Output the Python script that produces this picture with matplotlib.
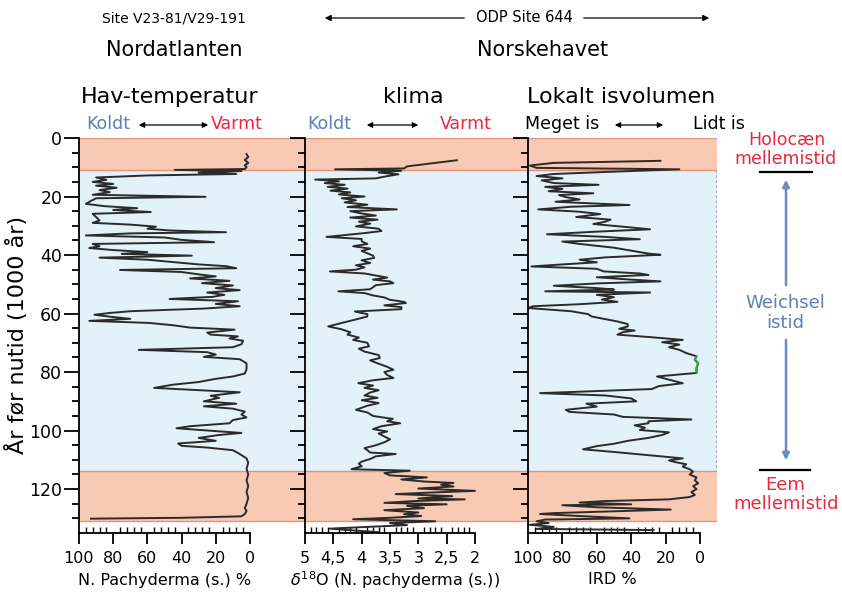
import numpy as np
import matplotlib
matplotlib.use("Agg")
import matplotlib.pyplot as plt
from matplotlib.ticker import FixedLocator
import matplotlib.transforms as mtransforms

plt.rcParams['font.family'] = ['DejaVu Sans']

# ---------------- data ----------------
# Panel 1: N. pachyderma (s.) %  (age in 1000 years, percent)
pach_age = [5.5, 6.5, 7.5, 8.5, 9.3, 10.0, 10.6, 10.9, 11.3, 11.8, 12.3, 12.8, 13.5, 14.3, 15.0, 15.7,
            16.3, 17.0, 17.8, 18.5, 19.4, 20.1, 20.6, 21.5, 22.5, 23.3, 24.0, 24.6, 25.3, 25.9, 27.0,
            28.2, 29.0, 29.6, 30.3, 31.0, 31.6, 32.2, 32.6, 33.3, 34.0, 34.8, 35.6, 36.2, 37.0, 37.6,
            38.3, 39.0, 39.6, 40.2, 40.9, 41.6, 42.4, 43.2, 43.8, 44.5, 45.1, 45.8, 46.6, 47.3, 48.0,
            48.8, 49.6, 50.4, 51.3, 52.0, 52.8, 53.6, 54.3, 55.0, 55.8, 56.7, 57.5, 58.3, 59.2, 59.8,
            60.4, 61.2, 61.8, 62.5, 63.2, 64.0, 64.8, 65.5, 66.5, 67.2, 67.8, 68.5, 69.3, 70.5, 71.5,
            72.4, 73.2, 74.0, 74.8, 75.6, 77.0, 79.0, 80.5, 81.5, 82.4, 83.4, 84.3, 85.4, 86.2, 86.9,
            88.1, 88.8, 90.0, 90.8, 91.7, 92.5, 93.5, 94.5, 95.5, 96.4, 97.5, 98.5, 99.2, 100.2, 100.8,
            101.5, 102.5, 103.5, 104.4, 105.2, 105.8, 106.7, 108.0, 109.5, 111.0, 113.0, 115.0, 117.0,
            119.0, 121.0, 123.0, 125.0, 126.5, 127.5, 128.5, 129.3, 129.8, 130.1]
pach_val = [2, 1, 3, 1, 3, 2, 3, 44, 5, 30, 8, 60, 90, 84, 92, 80,
            90, 78, 88, 82, 92, 26, 90, 93, 96, 85, 66, 80, 58, 92, 90,
            88, 92, 70, 55, 60, 47, 14, 70, 96, 50, 40, 21, 92, 88, 94,
            80, 60, 75, 34, 88, 60, 45, 30, 14, 8, 76, 40, 30, 20, 35,
            12, 28, 10, 20, 6, 25, 15, 22, 47, 7, 20, 6, 27, 70, 82,
            91, 80, 70, 94, 59, 45, 35, 9, 25, 23, 7, 12, 4, 5, 10,
            65, 25, 20, 27, 6, 2, 2, 3, 10, 21, 30, 45, 56, 29, 6,
            23, 18, 27, 8, 27, 10, 3, 5, 2, 10, 12, 35, 43, 19, 5,
            18, 30, 20, 42, 40, 25, 10, 6, 2, 1, 2, 1, 2,
            1, 2, 1, 2, 3, 2, 3, 5, 40, 93]

# Panel 2: delta 18O (per mil)
d18o_age = [7.6, 9.7, 10.4, 10.7, 11.2, 11.8, 12.4, 13.2, 13.8, 14.2, 14.8, 15.4, 16.0, 16.7, 17.3,
            18.0, 18.6, 19.3, 20.0, 20.6, 21.3, 22.0, 22.8, 23.6, 24.4, 25.0, 25.8, 26.5, 27.2, 27.9,
            28.6, 29.3, 30.2, 31.0, 31.8, 32.6, 33.8, 34.5, 35.3, 36.2, 37.0, 37.8, 38.6, 39.4, 40.2,
            41.0, 41.8, 42.7, 43.5, 44.2, 45.0, 45.6, 46.3, 47.0, 47.7, 48.4, 49.0, 49.6, 50.3, 51.0,
            51.7, 52.4, 53.0, 53.8, 54.5, 55.3, 56.0, 56.4, 57.2, 57.8, 58.5, 59.3, 60.2, 61.0, 62.0,
            63.2, 64.4, 65.4, 66.4, 67.2, 68.2, 69.0, 70.0, 71.2, 72.0, 73.0, 74.2, 75.2, 76.0, 77.0,
            78.2, 79.2, 80.0, 81.0, 82.0, 82.8, 83.8, 84.6, 85.4, 86.2, 87.0, 88.0, 88.8, 89.6, 90.6,
            91.5, 92.9, 93.8, 95.0, 96.0, 96.8, 97.5, 98.5, 99.5, 100.3, 101.0, 102.0, 103.0, 104.0,
            105.0, 106.0, 106.7, 107.5, 108.0, 108.8, 109.7, 110.6, 111.3, 112.2, 113.2, 113.7, 114.5,
            115.3, 116.0, 116.7, 117.4, 117.9, 118.5, 119.1, 119.8, 120.6, 121.2, 121.7, 122.4, 123.2,
            123.5, 124.1, 124.7, 125.2, 125.7, 126.5, 127.2, 128.0, 128.6, 129.2, 129.8, 130.3, 131.0,
            131.6, 132.3, 133.0, 133.5, 134.2, 134.7]
d18o_val = [2.32, 3.2, 3.25, 4.47, 3.3, 3.7, 3.35, 3.6, 3.75, 4.82, 4.4, 4.65, 4.3, 4.6, 4.25,
            4.55, 4.2, 4.4, 3.95, 4.35, 4.1, 4.3, 3.9, 4.25, 3.38, 4.2, 4.0, 3.75, 4.2, 3.72,
            4.05, 3.85, 4.1, 3.7, 3.65, 4.0, 4.62, 4.0, 4.0, 3.9, 4.15, 3.85, 4.0, 3.9, 3.8,
            3.78, 4.0, 3.85, 4.1, 3.95, 4.1, 4.56, 3.95, 3.75, 3.55, 3.8, 3.5, 3.44, 3.75, 3.8,
            3.85, 4.41, 3.95, 3.8, 3.6, 3.5, 3.25, 3.22, 3.6, 3.3, 3.3, 4.12, 3.9, 3.9, 4.1,
            4.35, 4.59, 4.35, 4.2, 4.25, 4.05, 4.15, 3.9, 3.87, 4.05, 3.95, 3.7, 3.68, 3.85, 3.72,
            3.55, 3.44, 3.6, 3.55, 3.44, 3.8, 4.06, 3.8, 3.95, 3.7, 3.85, 3.95, 3.72, 4.0, 3.7,
            3.9, 4.1, 3.9, 3.8, 3.45, 3.55, 3.32, 3.65, 3.8, 3.55, 3.7, 3.6, 3.5, 3.6,
            3.75, 3.95, 3.9, 3.85, 3.4, 3.75, 3.85, 4.0, 4.05, 4.0, 4.18, 3.15, 3.6,
            3.5, 2.85, 3.3, 2.9, 2.38, 2.6, 2.38, 3.0, 2.0, 2.8, 3.4, 2.4, 3.0,
            2.18, 3.1, 3.6, 2.5, 3.2, 2.9, 3.6, 3.0, 3.25, 2.95, 3.5, 4.15, 2.7,
            3.5, 3.2, 4.0, 4.56, 4.1, 3.7]

# Panel 3: IRD %
ird_age = [7.8, 8.5, 9.4, 10.2, 10.7, 11.5, 12.3, 13.0, 13.8, 14.5, 15.4, 16.0, 16.7, 17.4, 18.2,
           18.9, 19.5, 20.2, 21.0, 21.8, 22.9, 23.5, 24.4, 25.2, 26.0, 27.0, 27.9, 28.6, 29.4, 30.3,
           31.2, 32.0, 32.9, 33.8, 34.6, 35.4, 36.2, 37.5, 38.5, 39.5, 39.9, 40.8, 41.6, 42.5, 43.2,
           43.9, 44.7, 45.6, 46.3, 46.8, 47.6, 48.4, 49.0, 49.7, 50.5, 51.3, 51.8, 52.4, 52.8, 53.6,
           54.4, 55.2, 56.0, 56.8, 57.5, 58.1, 59.2, 60.2, 61.0, 61.9, 62.7, 63.6, 64.4, 65.2, 65.8,
           66.4, 67.2, 68.0, 69.0, 69.8, 70.6, 71.5, 72.4, 73.5, 74.6, 75.8, 77.0, 78.5, 80.3, 81.5,
           82.6, 83.8, 84.8, 85.8, 87.2, 88.0, 89.0, 90.0, 90.8, 91.8, 92.9, 93.6, 94.5, 95.3, 96.2,
           96.8, 97.5, 98.2, 99.0, 99.8, 100.6, 101.5, 102.5, 103.5, 104.5, 105.3, 106.4, 107.3, 108.4,
           109.5, 110.2, 110.7, 111.5, 112.3, 113.2, 114.0, 115.0, 116.0, 117.0, 118.0, 119.0, 120.0,
           121.0, 122.0, 122.7, 123.5, 124.1, 124.6, 125.2, 125.5, 126.2, 127.0, 127.4, 128.2, 128.5,
           129.2, 130.0, 130.4, 131.0, 131.6, 132.2, 132.9, 133.6, 134.0]
ird_val = [23, 85, 99, 95, 12, 50, 85, 95, 80, 92, 85, 59, 90, 80, 88,
           62, 82, 78, 70, 84, 41, 75, 94, 70, 58, 72, 52, 55, 62, 45,
           29, 60, 89, 55, 35, 80, 70, 50, 40, 30, 23, 55, 70, 60, 80,
           98, 60, 56, 35, 30, 60, 40, 23, 60, 85, 60, 50, 90, 29, 60,
           50, 57, 48, 70, 97, 100, 75, 65, 63, 55, 48, 42, 42, 47, 38,
           45, 48, 30, 10, 22, 12, 18, 12, 8, 2, 3, 1, 2, 2, 25,
           18, 10, 24, 28, 93, 55, 40, 37, 66, 60, 78, 76, 50, 45, 5,
           30, 30, 38, 32, 35, 18, 22, 30, 42, 50, 60, 68, 50, 30,
           10, 18, 15, 8, 10, 6, 4, 6, 2, 3, 1, 4, 2,
           5, 3, 6, 18, 56, 70, 40, 80, 60, 17, 40, 85, 93,
           70, 41, 90, 95, 88, 99, 85, 95, 27]

# climate stages (ages, 1000 years)
holocene = (0, 11)
weichsel = (11, 113.7)
eem = (113.7, 131)

age_ticks = [0, 20, 40, 60, 80, 100, 120]
pct_ticks = [100, 80, 60, 40, 20, 0]
pct_labels = ['100', '80', '60', '40', '20', '0']
d18o_ticks = [5, 4.5, 4, 3.5, 3, 2.5, 2]
d18o_labels = ['5', '4,5', '4', '3,5', '3', '2,5', '2']

# ---------------- figure ----------------
W, H = 842, 594
fig = plt.figure(figsize=(W / 100, H / 100), dpi=100)

def fx(px):
    return px / W

def fy(py):
    return 1 - py / H

def rect(x0, x1, y0=138, y1=533.3):
    return [fx(x0), fy(y1), (x1 - x0) / W, (y1 - y0) / H]

PINK = '#f8cab4'
BLUE = '#e3f2f9'
EDGE = '#e8917a'
LINE = '#2b2b2b'
RED = '#e8283c'
SLATE = '#5b80b8'

ax1 = fig.add_axes(rect(79, 305))
ax2 = fig.add_axes(rect(305, 528))
ax3 = fig.add_axes(rect(528, 717))

setups = [
    (ax1, (100, -32.2), pct_ticks, pct_labels, np.arange(0, 101, 4), (100, 0)),
    (ax2, (5, 1.065), d18o_ticks, d18o_labels, np.arange(2, 5.001, 0.1), (5, 2)),
    (ax3, (100, -9.9), pct_ticks, pct_labels, np.arange(0, 101, 4), (100, 0)),
]
for ax, xl, xt, xtl, xminor, bnds in setups:
    ax.set_facecolor('none')
    ax.set_xlim(*xl)
    ax.set_ylim(135.1, 0)
    ax.axhspan(*holocene, color=PINK, lw=0, zorder=0)
    ax.axhspan(*weichsel, color=BLUE, lw=0, zorder=0)
    ax.axhspan(*eem, color=PINK, lw=0, zorder=0)
    for yb in (holocene[0], holocene[1], eem[0], eem[1]):
        ax.axhline(yb, color=EDGE, lw=1.0, zorder=1)
    for s in ('top', 'right'):
        ax.spines[s].set_visible(False)
    ax.spines['left'].set_linewidth(1.3)
    ax.spines['bottom'].set_linewidth(1.3)
    ax.spines['bottom'].set_bounds(*bnds)
    ax.xaxis.set_major_locator(FixedLocator(xt))
    ax.set_xticklabels(xtl, fontsize=11.5)
    ax.xaxis.set_minor_locator(FixedLocator(xminor))
    ax.tick_params(axis='x', which='major', direction='out', length=8, width=1.3, pad=5)
    ax.tick_params(axis='x', which='minor', direction='in', length=4, width=1.0)
    ax.yaxis.set_major_locator(FixedLocator(age_ticks))
    ax.yaxis.set_minor_locator(FixedLocator(np.arange(0, 131, 5)))
    ax.tick_params(axis='y', which='major', direction='out', length=11, width=1.3, pad=1,
                   labelsize=12.5)
    ax.tick_params(axis='y', which='minor', direction='out', length=5, width=1.3)
    for side in ('left', 'bottom'):
        ax.spines[side].set_zorder(5)

ax2.set_yticklabels([])
ax3.set_yticklabels([])

ax1.plot(pach_val, pach_age, color=LINE, lw=1.4, zorder=3)
ax2.plot(d18o_val, d18o_age, color=LINE, lw=1.4, zorder=3)
ax3.plot(ird_val, ird_age, color=LINE, lw=1.4, zorder=3)
# short green segment in the IRD curve
ia = np.array(ird_age)
iv = np.array(ird_val)
m = (ia >= 74.6) & (ia <= 80.3)
ax3.plot(iv[m], ia[m], color='#3aa046', lw=1.4, zorder=4)

# dashed right edge of the Weichsel band in panel 3
trans = mtransforms.blended_transform_factory(ax3.transAxes, ax3.transData)
ax3.vlines(0.995, weichsel[0], weichsel[1], transform=trans, colors='#9fb6c8',
           linestyles=(0, (2, 2)), lw=0.9, zorder=1)

# axis titles
fig.text(fx(165), fy(580), 'N. Pachyderma (s.) %', fontsize=11.5, ha='center', va='center')
fig.text(fx(395), fy(580), r'$\delta^{18}$O (N. pachyderma (s.))', fontsize=11.5,
         ha='center', va='center')
fig.text(fx(612), fy(580), 'IRD %', fontsize=11.5, ha='center', va='center')

fig.text(fx(17), fy(335), 'År før nutid (1000 år)', rotation=90, fontsize=16,
         ha='center', va='center')

# ---------------- header texts ----------------
fig.text(fx(174), fy(18), 'Site V23-81/V29-191', fontsize=10, ha='center', va='center')
fig.text(fx(524), fy(18), 'ODP Site 644', fontsize=10.5, ha='center', va='center')
arrow_kw = dict(arrowstyle='-|>', color='black', lw=0.9, mutation_scale=9)
fig.add_artist(matplotlib.patches.FancyArrowPatch((fx(467), fy(18)), (fx(322), fy(18)),
               transform=fig.transFigure, **arrow_kw))
fig.add_artist(matplotlib.patches.FancyArrowPatch((fx(581), fy(18)), (fx(712), fy(18)),
               transform=fig.transFigure, **arrow_kw))

fig.text(fx(174), fy(50), 'Nordatlanten', fontsize=15, ha='center', va='center')
fig.text(fx(543), fy(50), 'Norskehavet', fontsize=15, ha='center', va='center')

fig.text(fx(170), fy(97), 'Hav-temperatur', fontsize=16, ha='center', va='center')
fig.text(fx(413), fy(97), 'klima', fontsize=16, ha='center', va='center')
fig.text(fx(621), fy(97), 'Lokalt isvolumen', fontsize=16, ha='center', va='center')

dbl_kw = dict(arrowstyle='<|-|>', color='black', lw=0.9, mutation_scale=8)
fig.text(fx(108), fy(124), 'Koldt', fontsize=12.5, color=SLATE, ha='center', va='center')
fig.text(fx(237), fy(124), 'Varmt', fontsize=12.5, color=RED, ha='center', va='center')
fig.add_artist(matplotlib.patches.FancyArrowPatch((fx(136), fy(125)), (fx(211), fy(125)),
               transform=fig.transFigure, **dbl_kw))
fig.text(fx(329), fy(124), 'Koldt', fontsize=12.5, color=SLATE, ha='center', va='center')
fig.text(fx(466), fy(124), 'Varmt', fontsize=12.5, color=RED, ha='center', va='center')
fig.add_artist(matplotlib.patches.FancyArrowPatch((fx(364), fy(125)), (fx(421), fy(125)),
               transform=fig.transFigure, **dbl_kw))
fig.text(fx(562), fy(124), 'Meget is', fontsize=12.5, ha='center', va='center')
fig.text(fx(719), fy(124), 'Lidt is', fontsize=12.5, ha='center', va='center')
fig.add_artist(matplotlib.patches.FancyArrowPatch((fx(612), fy(125)), (fx(666), fy(125)),
               transform=fig.transFigure, **dbl_kw))

# ---------------- right-side annotations ----------------
fig.text(fx(787), fy(140), 'Holocæn', fontsize=12.5, color=RED, ha='center', va='center')
fig.text(fx(786), fy(159), 'mellemistid', fontsize=12.5, color=RED, ha='center', va='center')
fig.add_artist(matplotlib.lines.Line2D([fx(760), fx(812)], [fy(172), fy(172)], color='black', lw=1.6))

fig.text(fx(785), fy(303), 'Weichsel', fontsize=13, color=SLATE, ha='center', va='center')
fig.text(fx(785), fy(323), 'istid', fontsize=13, color=SLATE, ha='center', va='center')
up_kw = dict(arrowstyle='-|>', color='#6a8cc3', lw=1.8, mutation_scale=10)
fig.add_artist(matplotlib.patches.FancyArrowPatch((fx(786), fy(288)), (fx(786), fy(177)),
               transform=fig.transFigure, **up_kw))
fig.add_artist(matplotlib.patches.FancyArrowPatch((fx(786), fy(337)), (fx(786), fy(463)),
               transform=fig.transFigure, **up_kw))

fig.add_artist(matplotlib.lines.Line2D([fx(760), fx(810)], [fy(470), fy(470)], color='black', lw=1.6))
fig.text(fx(785), fy(485), 'Eem', fontsize=13, color=RED, ha='center', va='center')
fig.text(fx(786), fy(504), 'mellemistid', fontsize=13, color=RED, ha='center', va='center')

fig.savefig('out.png', dpi=100)
